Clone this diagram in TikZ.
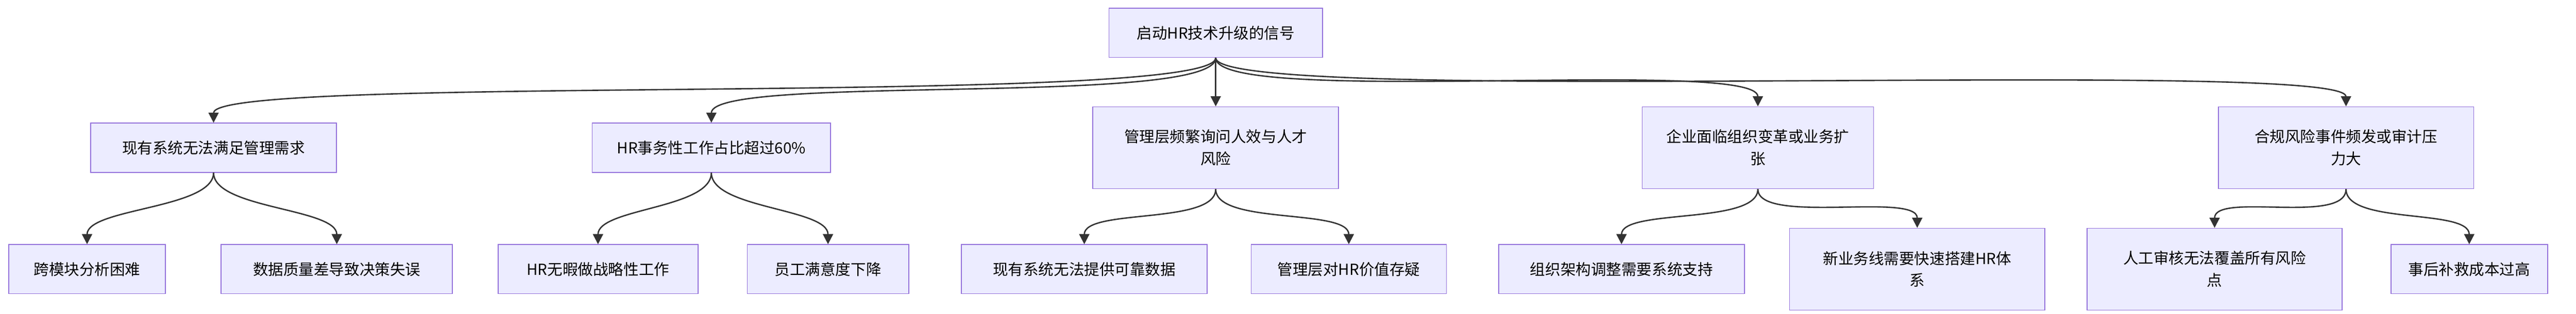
\documentclass[tikz,border=0pt]{standalone}
\usepackage{fontspec}
\setmainfont{Noto Sans CJK SC}
\usetikzlibrary{arrows.meta}
\definecolor{boxfill}{HTML}{ECECFF}
\definecolor{boxline}{HTML}{9370DB}
\definecolor{edge}{HTML}{333333}
\begin{document}
\begin{tikzpicture}[x=0.0341cm,y=-0.0341cm]
      \tikzstyle{box}=[draw=boxline,fill=boxfill,line width=0.5pt,align=center,
        font=\fontsize{9}{13}\selectfont,minimum height=1.02cm,inner sep=2pt]
      \tikzstyle{tall}=[box,minimum height=1.7cm]
      \tikzstyle{link}=[draw=edge,line width=0.8pt,-{Triangle[length=6pt,width=6pt]}]
      \useasboundingbox (0,0) rectangle (1568,191);
      % Root
      \node (root) at (740,20) [box,minimum width=4.43cm] {启动HR技术升级的信号};
      % Signals
      \node (sysA) at (130,90) [box,minimum width=5.1cm] {现有系统无法满足管理需求};
      \node (hrB) at (433,90) [box,minimum width=4.95cm] {HR事务性工作占比超过60\%};
      \node (mgC) at (740,90) [tall,minimum width=5.1cm] {管理层频繁询问人效与人才\\风险};
      \node (orgD) at (1070,90) [tall,minimum width=4.8cm] {企业面临组织变革或业务扩\\张};
      \node (riskE) at (1428,90) [tall,minimum width=5.3cm] {合规风险事件频发或审计压\\力大};
      % Consequences
      \node (a1) at (53,164) [box,minimum width=3.25cm] {跨模块分析困难};
      \node (a2) at (205,164) [box,minimum width=4.8cm] {数据质量差导致决策失误};
      \node (b1) at (364,164) [box,minimum width=4.15cm] {HR无暇做战略性工作};
      \node (b2) at (504,164) [box,minimum width=3.35cm] {员工满意度下降};
      \node (c1) at (660,164) [box,minimum width=5.1cm] {现有系统无法提供可靠数据};
      \node (c2) at (821,164) [box,minimum width=4.05cm] {管理层对HR价值存疑};
      \node (d1) at (987,164) [box,minimum width=5.1cm] {组织架构调整需要系统支持};
      \node (d2) at (1167,164) [tall,minimum width=5.3cm] {新业务线需要快速搭建HR体\\系};
      \node (e1) at (1348,164) [tall,minimum width=5.3cm] {人工审核无法覆盖所有风险\\点};
      \node (e2) at (1503,164) [box,minimum width=3.25cm] {事后补救成本过高};
      % Root to signals
      \foreach \n in {sysA,hrB,riskE,orgD}
        \draw [link] (root.south) .. controls +(0,30) and +(0,-30) .. (\n.north);
      \draw [link] (root.south) -- (mgC.north);
      % Signals to consequences
      \foreach \p/\c in {sysA/a1,sysA/a2,hrB/b1,hrB/b2,mgC/c1,mgC/c2,orgD/d1,orgD/d2,riskE/e1,riskE/e2}
        \draw [link] (\p.south) .. controls +(0,22) and +(0,-22) .. (\c.north);
\end{tikzpicture}
\end{document}
